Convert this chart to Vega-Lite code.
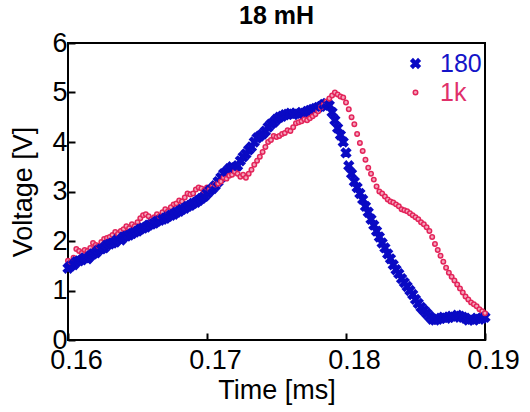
{
"$schema":"https://vega.github.io/schema/vega-lite/v6.json",
"width":417,"height":297,
"autosize":{"type":"none"},
"padding":{"left":68,"top":43,"right":45,"bottom":72},
"background":"white",
"title":{"text":"18 mH","fontSize":25,"font":"Liberation Sans","fontWeight":"bold","offset":0,"color":"black"},
"config":{"view":{"stroke":"black","strokeWidth":2},"font":"Liberation Sans"},
"data":{"values":[
{"t":0.1600,"180":1.45,"1k":1.60},{"t":0.1602,"180":1.50,"1k":1.58},{"t":0.1604,"180":1.52,"1k":1.66},{"t":0.1606,"180":1.58,"1k":1.84},{"t":0.1608,"180":1.60,"1k":1.80},
{"t":0.1610,"180":1.62,"1k":1.76},{"t":0.1612,"180":1.66,"1k":1.82},{"t":0.1614,"180":1.64,"1k":1.80},{"t":0.1616,"180":1.70,"1k":1.86},{"t":0.1618,"180":1.74,"1k":1.96},
{"t":0.1620,"180":1.76,"1k":1.92},{"t":0.1622,"180":1.82,"1k":1.90},{"t":0.1624,"180":1.84,"1k":1.98},{"t":0.1626,"180":1.86,"1k":2.04},{"t":0.1628,"180":1.92,"1k":2.06},
{"t":0.1630,"180":1.94,"1k":2.08},{"t":0.1632,"180":1.96,"1k":2.12},{"t":0.1634,"180":1.98,"1k":2.18},{"t":0.1636,"180":2.04,"1k":2.14},{"t":0.1638,"180":2.02,"1k":2.20},
{"t":0.1640,"180":2.08,"1k":2.24},{"t":0.1642,"180":2.10,"1k":2.30},{"t":0.1644,"180":2.12,"1k":2.26},{"t":0.1646,"180":2.15,"1k":2.34},{"t":0.1648,"180":2.18,"1k":2.30},
{"t":0.1650,"180":2.20,"1k":2.38},{"t":0.1652,"180":2.24,"1k":2.46},{"t":0.1654,"180":2.26,"1k":2.52},{"t":0.1656,"180":2.28,"1k":2.54},{"t":0.1658,"180":2.32,"1k":2.50},
{"t":0.1660,"180":2.34,"1k":2.44},{"t":0.1662,"180":2.36,"1k":2.48},{"t":0.1664,"180":2.40,"1k":2.54},{"t":0.1666,"180":2.42,"1k":2.50},{"t":0.1668,"180":2.44,"1k":2.58},
{"t":0.1670,"180":2.46,"1k":2.64},{"t":0.1672,"180":2.50,"1k":2.60},{"t":0.1674,"180":2.52,"1k":2.68},{"t":0.1676,"180":2.54,"1k":2.74},{"t":0.1678,"180":2.58,"1k":2.76},
{"t":0.1680,"180":2.60,"1k":2.82},{"t":0.1682,"180":2.64,"1k":2.80},{"t":0.1684,"180":2.66,"1k":2.88},{"t":0.1686,"180":2.70,"1k":2.96},{"t":0.1688,"180":2.72,"1k":2.94},
{"t":0.1690,"180":2.76,"1k":2.96},{"t":0.1692,"180":2.78,"1k":3.04},{"t":0.1694,"180":2.82,"1k":3.08},{"t":0.1696,"180":2.86,"1k":3.06},{"t":0.1698,"180":2.90,"1k":3.02},
{"t":0.1700,"180":2.96,"1k":3.08},{"t":0.1702,"180":3.02,"1k":3.04},{"t":0.1704,"180":3.06,"1k":3.10},{"t":0.1706,"180":3.12,"1k":3.14},{"t":0.1708,"180":3.20,"1k":3.16},
{"t":0.1710,"180":3.28,"1k":3.20},{"t":0.1712,"180":3.36,"1k":3.28},{"t":0.1714,"180":3.40,"1k":3.26},{"t":0.1716,"180":3.46,"1k":3.32},{"t":0.1718,"180":3.50,"1k":3.34},
{"t":0.1720,"180":3.48,"1k":3.40},{"t":0.1722,"180":3.52,"1k":3.36},{"t":0.1724,"180":3.62,"1k":3.30},{"t":0.1726,"180":3.70,"1k":3.34},{"t":0.1728,"180":3.76,"1k":3.28},
{"t":0.1730,"180":3.84,"1k":3.36},{"t":0.1732,"180":3.90,"1k":3.44},{"t":0.1734,"180":4.00,"1k":3.54},{"t":0.1736,"180":4.08,"1k":3.62},{"t":0.1738,"180":4.12,"1k":3.70},
{"t":0.1740,"180":4.16,"1k":3.80},{"t":0.1742,"180":4.22,"1k":3.90},{"t":0.1744,"180":4.30,"1k":4.00},{"t":0.1746,"180":4.36,"1k":4.04},{"t":0.1748,"180":4.40,"1k":4.12},
{"t":0.1750,"180":4.46,"1k":4.10},{"t":0.1752,"180":4.50,"1k":4.12},{"t":0.1754,"180":4.52,"1k":4.16},{"t":0.1756,"180":4.55,"1k":4.18},{"t":0.1758,"180":4.56,"1k":4.24},
{"t":0.1760,"180":4.58,"1k":4.22},{"t":0.1762,"180":4.56,"1k":4.30},{"t":0.1764,"180":4.58,"1k":4.38},{"t":0.1766,"180":4.56,"1k":4.40},{"t":0.1768,"180":4.60,"1k":4.42},
{"t":0.1770,"180":4.58,"1k":4.46},{"t":0.1772,"180":4.62,"1k":4.44},{"t":0.1774,"180":4.64,"1k":4.48},{"t":0.1776,"180":4.66,"1k":4.52},{"t":0.1778,"180":4.68,"1k":4.56},
{"t":0.1780,"180":4.70,"1k":4.62},{"t":0.1782,"180":4.72,"1k":4.70},{"t":0.1784,"180":4.76,"1k":4.76},{"t":0.1786,"180":4.78,"1k":4.82},{"t":0.1788,"180":4.74,"1k":4.88},
{"t":0.1790,"180":4.60,"1k":4.94},{"t":0.1792,"180":4.44,"1k":5.00},{"t":0.1794,"180":4.28,"1k":4.96},{"t":0.1796,"180":4.14,"1k":4.92},{"t":0.1798,"180":4.00,"1k":4.90},
{"t":0.1800,"180":3.78,"1k":4.80},{"t":0.1802,"180":3.52,"1k":4.66},{"t":0.1804,"180":3.36,"1k":4.50},{"t":0.1806,"180":3.20,"1k":4.36},{"t":0.1808,"180":3.08,"1k":4.16},
{"t":0.1810,"180":2.96,"1k":3.98},{"t":0.1812,"180":2.84,"1k":3.82},{"t":0.1814,"180":2.70,"1k":3.64},{"t":0.1816,"180":2.58,"1k":3.48},{"t":0.1818,"180":2.44,"1k":3.36},
{"t":0.1820,"180":2.32,"1k":3.24},{"t":0.1822,"180":2.20,"1k":3.10},{"t":0.1824,"180":2.08,"1k":3.00},{"t":0.1826,"180":1.96,"1k":2.96},{"t":0.1828,"180":1.86,"1k":2.90},
{"t":0.1830,"180":1.74,"1k":2.84},{"t":0.1832,"180":1.64,"1k":2.80},{"t":0.1834,"180":1.52,"1k":2.78},{"t":0.1836,"180":1.42,"1k":2.74},{"t":0.1838,"180":1.34,"1k":2.70},
{"t":0.1840,"180":1.24,"1k":2.64},{"t":0.1842,"180":1.16,"1k":2.62},{"t":0.1844,"180":1.08,"1k":2.60},{"t":0.1846,"180":1.00,"1k":2.56},{"t":0.1848,"180":0.92,"1k":2.52},
{"t":0.1850,"180":0.82,"1k":2.48},{"t":0.1852,"180":0.74,"1k":2.44},{"t":0.1854,"180":0.66,"1k":2.38},{"t":0.1856,"180":0.60,"1k":2.34},{"t":0.1858,"180":0.54,"1k":2.28},
{"t":0.1860,"180":0.48,"1k":2.20},{"t":0.1862,"180":0.42,"1k":2.08},{"t":0.1864,"180":0.40,"1k":1.94},{"t":0.1866,"180":0.42,"1k":1.82},{"t":0.1868,"180":0.44,"1k":1.70},
{"t":0.1870,"180":0.46,"1k":1.58},{"t":0.1872,"180":0.44,"1k":1.46},{"t":0.1874,"180":0.46,"1k":1.36},{"t":0.1876,"180":0.48,"1k":1.28},{"t":0.1878,"180":0.46,"1k":1.20},
{"t":0.1880,"180":0.50,"1k":1.12},{"t":0.1882,"180":0.48,"1k":1.04},{"t":0.1884,"180":0.46,"1k":0.96},{"t":0.1886,"180":0.44,"1k":0.88},{"t":0.1888,"180":0.40,"1k":0.82},
{"t":0.1890,"180":0.42,"1k":0.76},{"t":0.1892,"180":0.40,"1k":0.72},{"t":0.1894,"180":0.44,"1k":0.68},{"t":0.1896,"180":0.42,"1k":0.62},{"t":0.1898,"180":0.44,"1k":0.58},
{"t":0.1900,"180":0.46,"1k":0.54}
]},
"transform":[{"fold":["180","1k"],"as":["series","volt"]}],
"mark":{"type":"point","filled":true,"strokeWidth":1.5,"opacity":1},
"encoding":{
"x":{"field":"t","type":"quantitative","scale":{"domain":[0.16,0.19],"nice":false,"zero":false},
 "axis":{"values":[0.16,0.17,0.18,0.19],"format":".2f","title":"Time [ms]","grid":false,"domain":false,"tickSize":-7,"tickWidth":2,"tickColor":"black","labelFlush":false,"labelOverlap":false,"labelFontSize":27,"labelColor":"black","labelPadding":14,"labelOffset":8,"titleFontSize":27,"titleFontWeight":"normal","titleColor":"black","titlePadding":4,"labelFont":"Liberation Sans","titleFont":"Liberation Sans"}},
"y":{"field":"volt","type":"quantitative","scale":{"domain":[0,6],"nice":false},
 "axis":{"values":[0,1,2,3,4,5,6],"title":"Voltage [V]","grid":false,"domain":false,"tickSize":-7,"tickWidth":2,"tickColor":"black","labelFlush":false,"labelOverlap":false,"labelFontSize":27,"labelColor":"black","labelPadding":8,"titleFontSize":27,"titleFontWeight":"normal","titleColor":"black","titlePadding":14,"labelFont":"Liberation Sans","titleFont":"Liberation Sans"}},
"fill":{"field":"series","type":"nominal","scale":{"domain":["180","1k"],"range":["#0a0ac4","#f4a4bc"]},
 "legend":{"orient":"none","legendX":335,"legendY":8,"title":null,"labelFontSize":25,"labelFont":"Liberation Sans","labelOffset":12,"rowPadding":3,"symbolStrokeWidth":1.5,
  "labelColor":{"expr":"datum.value === '180' ? '#1414c8' : '#e0306a'"}}},
"stroke":{"field":"series","type":"nominal","scale":{"domain":["180","1k"],"range":["#0a0ac4","#e3245a"]}},
"shape":{"field":"series","type":"nominal","scale":{"domain":["180","1k"],"range":["M-1,-0.55L-0.55,-1L0,-0.45L0.55,-1L1,-0.55L0.45,0L1,0.55L0.55,1L0,0.45L-0.55,1L-1,0.55L-0.45,0Z","circle"]}},
"size":{"field":"series","type":"nominal","scale":{"domain":["180","1k"],"range":[85,20]}}
}
}
